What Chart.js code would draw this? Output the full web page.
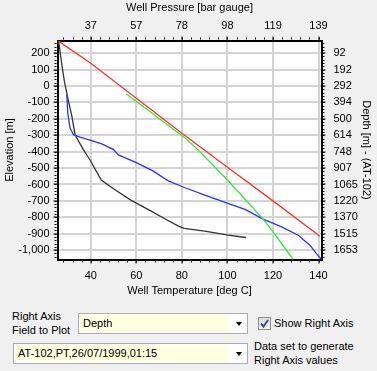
<!DOCTYPE html>
<html>
<head>
<meta charset="utf-8">
<script src="https://cdn.jsdelivr.net/npm/chart.js@4.4.0/dist/chart.umd.min.js"></script>
<style>
  body { margin: 0; background: #f0f0f0; font-family: "Liberation Sans", Arial, sans-serif; font-size: 11px; color: #000; }
  #wrap { position: relative; width: 377px; height: 371px; overflow: hidden; }
  #chart { position: absolute; left: 0; top: 0; }
  .lbl { position: absolute; line-height: 14px; white-space: nowrap; }
  .combo { position: absolute; border: 1px solid #abadb3; background: #fff; box-sizing: border-box; }
  .combo .field { position: absolute; left: 1px; top: 1px; bottom: 1px; background: #ffffe1; padding-left: 3px; line-height: 17px; white-space: nowrap; }
  .combo .arrow { position: absolute; right: 5px; top: 8px; width: 0; height: 0;
    border-left: 3.5px solid transparent; border-right: 3.5px solid transparent; border-top: 4px solid #000; }
  .check { position: absolute; left: 258px; top: 317px; width: 13px; height: 13px; box-sizing: border-box;
    border: 1px solid #8e8f8f; background: linear-gradient(#dcdcdc, #f4f4f4); }
</style>
</head>
<body>
<div id="wrap">
  <canvas id="chart" width="377" height="300"></canvas>

  <div class="lbl" style="left:12px; top:309px;">Right Axis<br>Field to Plot</div>
  <div class="combo" style="left:78px; top:313px; width:170px; height:21px;">
    <div class="field" style="width:146px;">Depth</div>
    <div class="arrow"></div>
  </div>
  <div class="check">
    <svg width="11" height="11" viewBox="0 0 11 11"><path d="M2 5.5 L4.5 8.5 L9 2" stroke="#3a4d8c" stroke-width="2" fill="none"/></svg>
  </div>
  <div class="lbl" style="left:274px; top:316px;">Show Right Axis</div>

  <div class="combo" style="left:13px; top:343px; width:235px; height:21px;">
    <div class="field" style="width:211px;">AT-102,PT,26/07/1999,01:15</div>
    <div class="arrow"></div>
  </div>
  <div class="lbl" style="left:254px; top:339px;">Data set to generate<br>Right Axis values</div>
</div>

<script>
// axis tick labels
const tempTicks = [40, 60, 80, 100, 120, 140];
const pressureLabels = ['37', '57', '78', '98', '119', '139'];
const elevTicks = [200, 100, 0, -100, -200, -300, -400, -500, -600, -700, -800, -900, -1000];
const depthLabels = ['92', '192', '292', '394', '500', '614', '748', '907', '1065', '1220', '1370', '1515', '1653'];

// axis ranges
const tempMin = 25.4, tempMax = 141.3;
const elevMin = -1057, elevMax = 277;

// red trace
const redTemp = [25.8, 40, 60, 80, 100, 120, 140.6];
const redElev = [273, 138, -75, -288, -495, -700, -915];

// green trace
const greenTemp = [55.5, 81.4, 87.2, 100, 115.7, 120, 128.9];
const greenElev = [-48, -317, -390, -573, -811, -888, -1057];

// blue trace
const blueTemp = [29.5, 29.9, 30.9, 32.4, 35.3, 40.4, 44.8, 49.9, 52.1, 59.8, 67.1, 74, 81.4, 90.1, 100.2, 107.7, 115.7, 123.8, 131.1, 136.2, 139.1, 141.3];
const blueElev = [-50, -164, -256, -297, -311, -333, -353, -386, -420, -465, -516, -578, -620, -665, -715, -752, -811, -858, -909, -970, -1021, -1057];

// black trace
const blackTemp = [25.8, 26.1, 27.3, 28.4, 29.9, 31.7, 33.1, 36.8, 39.7, 44.6, 50.3, 57.6, 65.7, 72.9, 78.5, 81, 90.1, 100.4, 108.1];
const blackElev = [273, 252, 130, 29, -73, -184, -297, -389, -451, -573, -629, -695, -756, -812, -854, -868, -884, -909, -923];

const pts = (xs, ys) => xs.map((x, i) => ({ x: x, y: ys[i] }));
const font = { family: '"Liberation Sans", Arial, sans-serif', size: 11 };

const bgPlugin = {
  id: 'bg',
  beforeDraw(chart) {
    const { ctx, chartArea: a } = chart;
    ctx.save();
    ctx.fillStyle = '#f0f0f0';
    ctx.fillRect(0, 0, chart.width, chart.height);
    ctx.fillStyle = '#fff';
    ctx.fillRect(a.left, a.top, a.right - a.left, a.bottom - a.top);
    ctx.restore();
  }
};

// small tick marks between the labelled ones
const minorTicks = {
  id: 'minorTicks',
  afterDraw(chart) {
    const { ctx, chartArea: a, scales } = chart;
    ctx.save();
    ctx.strokeStyle = '#000';
    ctx.lineWidth = 1;
    ctx.beginPath();
    for (let t = 28; t <= 140; t += 4) {
      const px = Math.round(scales.x.getPixelForValue(t)) + 0.5;
      ctx.moveTo(px, a.bottom + 1); ctx.lineTo(px, a.bottom + 3);
      ctx.moveTo(px, a.top - 1); ctx.lineTo(px, a.top - 3);
    }
    for (let e = -1040; e <= 260; e += 20) {
      const py = Math.round(scales.y.getPixelForValue(e)) + 0.5;
      ctx.moveTo(a.left - 1, py); ctx.lineTo(a.left - 3, py);
      ctx.moveTo(a.right + 1, py); ctx.lineTo(a.right + 3, py);
    }
    ctx.stroke();
    ctx.restore();
  }
};

const gridCfg = { color: '#d4d4d4', lineWidth: 2, tickLength: 4, tickColor: '#000', tickWidth: 1 };
const borderCfg = { color: '#000', width: 2 };

new Chart(document.getElementById('chart'), {
  type: 'line',
  data: {
    datasets: [
      { data: pts(redTemp, redElev), borderColor: '#ff3030' },
      { data: pts(greenTemp, greenElev), borderColor: '#3de63d' },
      { data: pts(blueTemp, blueElev), borderColor: '#3030ff' },
      { data: pts(blackTemp, blackElev), borderColor: '#333333' }
    ]
  },
  options: {
    responsive: false,
    animation: false,
    layout: { padding: 0 },
    plugins: { legend: { display: false }, tooltip: { enabled: false } },
    elements: { point: { radius: 0 }, line: { tension: 0, borderWidth: 1.3, fill: false } },
    scales: {
      x: {
        type: 'linear', position: 'bottom', min: tempMin, max: tempMax,
        afterBuildTicks: s => { s.ticks = tempTicks.map(v => ({ value: v })); },
        afterFit: s => { s.height = 40.5; },
        grid: gridCfg, border: borderCfg,
        ticks: { color: '#000', font: font, padding: 6, maxRotation: 0, autoSkip: false },
        title: { display: true, text: 'Well Temperature [deg C]', color: '#000', font: font, padding: { top: 0, bottom: 2 } }
      },
      x2: {
        type: 'linear', position: 'top', min: tempMin, max: tempMax,
        afterBuildTicks: s => { s.ticks = tempTicks.map(v => ({ value: v })); },
        afterFit: s => { s.height = 40.5; },
        grid: Object.assign({}, gridCfg, { drawOnChartArea: false }), border: borderCfg,
        ticks: { color: '#000', font: font, padding: 4, maxRotation: 0, autoSkip: false,
          callback: (v, i) => pressureLabels[i] },
        title: { display: true, text: 'Well Pressure [bar gauge]', color: '#000', font: font, padding: { top: 1, bottom: 0 } }
      },
      y: {
        type: 'linear', position: 'left', min: elevMin, max: elevMax,
        afterBuildTicks: s => { s.ticks = elevTicks.map(v => ({ value: v })); },
        afterFit: s => { s.width = 57.5; },
        grid: gridCfg, border: borderCfg,
        ticks: { color: '#000', font: font, padding: 4, autoSkip: false,
          callback: v => v.toLocaleString('en-US') },
        title: { display: true, text: 'Elevation [m]', color: '#000', font: font, padding: { top: 3, bottom: 0 } }
      },
      y2: {
        type: 'linear', position: 'right', min: elevMin, max: elevMax,
        afterBuildTicks: s => { s.ticks = elevTicks.map(v => ({ value: v })); },
        afterFit: s => { s.width = 55.5; },
        grid: Object.assign({}, gridCfg, { drawOnChartArea: false }), border: borderCfg,
        ticks: { color: '#000', font: font, padding: 8, autoSkip: false,
          callback: (v, i) => depthLabels[i] },
        title: { display: true, text: 'Depth [m] - (AT-102)', color: '#000', font: font, padding: { top: 4, bottom: 0 } }
      }
    }
  },
  plugins: [bgPlugin, minorTicks]
});
</script>
</body>
</html>
